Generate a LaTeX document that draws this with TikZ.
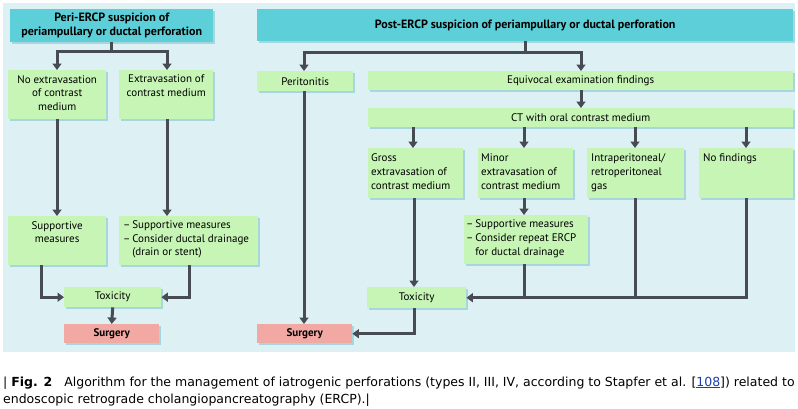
\documentclass[tikz,border=0pt]{standalone}
\usepackage{fontspec}
\setmainfont{PT Sans}
\newfontfamily\capfont{DejaVu Sans}
\usetikzlibrary{arrows.meta,calc}
\definecolor{bgblue}{HTML}{DDF0F4}
\definecolor{headc}{HTML}{5CCFD8}
\definecolor{boxgreen}{HTML}{C7F5B6}
\definecolor{surgc}{HTML}{F2A8A3}
\definecolor{shadc}{HTML}{A8D6DE}
\definecolor{linec}{HTML}{474C52}
\definecolor{linkc}{HTML}{1F3FA8}
\tikzset{
  x=1pt, y=-1pt,
  basebox/.style={draw=none, inner sep=0pt, anchor=north west,
    preaction={fill=shadc, transform canvas={xshift=1.6pt, yshift=-1.6pt}}},
  hbox/.style={basebox, fill=headc},
  gbox/.style={basebox, fill=boxgreen},
  sbox/.style={basebox, fill=surgc},
  sz/.style 2 args={minimum width=#1pt, minimum height=#2pt},
  txt/.style={inner sep=0pt, font=\fontsize{11}{13.8}\selectfont},
  ctxt/.style={txt, align=center, anchor=north},
  ltxt/.style={txt, align=left, anchor=north west},
  htxt/.style={font=\fontsize{12}{14}\selectfont\bfseries},
  ln/.style={draw=linec, line width=3pt},
  arr/.style={ln, -{Triangle[width=9pt,length=6.5pt]}},
}
\begin{document}
\begin{tikzpicture}
\useasboundingbox (0,0) rectangle (798,408);
\fill[white] (0,0) rectangle (798,408);
\fill[bgblue] (3,3) rectangle (795,352);

% x reference coordinates
\foreach \n in {167,304,413,414,524,581,635,746}
  \coordinate (c\n) at (\n,0);

% headers
\node[hbox, sz={203}{33}] (perih) at (10,9) {};
\node[ctxt, htxt] at ($(perih.north)+(0,3.5)$) {Peri-ERCP suspicion of\\periampullary or ductal perforation};
\node[hbox, sz={536}{32}] (posth) at (257,9) {};
\node[txt, htxt] at (posth.center) {Post-ERCP suspicion of periampullary or ductal perforation};

% left column
\node[gbox, sz={98}{49}] (noext) at (8,70) {};
\node[ctxt] at ($(noext.north)+(0,5)$) {No extravasation\\of contrast\\medium};
\node[gbox, sz={94}{49}] (ext) at (119,70) {};
\node[ctxt] at ($(ext.north)+(0,5)$) {Extravasation of\\contrast medium};
\node[gbox, sz={98}{49}] (supL) at (8,216) {};
\node[ctxt] at ($(supL.north)+(0,5)$) {Supportive\\measures};
\node[gbox, sz={139}{49}] (supLR) at (119,216) {};
\node[ltxt] at (123,218.5) {\begin{tabular}{@{}l@{\,}l@{}}–&Supportive measures\\–&Consider ductal drainage\\&(drain or stent)\end{tabular}};
\node[gbox, sz={97}{20}] (toxL) at (64,287) {};
\node[txt] at (toxL.center) {Toxicity};
\node[sbox, sz={95}{19}] (surgL) at (64,324) {};
\node[txt, font=\fontsize{11}{14}\selectfont\bfseries] at (surgL.center) {Surgery};

% right part
\node[gbox, sz={96}{20}] (perit) at (257,71) {};
\node[txt] at (perit.center) {Peritonitis};
\node[gbox, sz={425}{19}] (equiv) at (368,71) {};
\node[txt] at (equiv.center) {Equivocal examination findings};
\node[gbox, sz={425}{19}] (ct) at (368,108) {};
\node[txt] at (ct.center) {CT with oral contrast medium};
\node[gbox, sz={95}{50}] (gross) at (368,148) {};
\node[ltxt] at (371,153.5) {Gross\\extravasation of\\contrast medium};
\node[gbox, sz={95}{50}] (minor) at (478,148) {};
\node[ltxt] at (481,153.5) {Minor\\extravasation of\\contrast medium};
\node[gbox, sz={97}{50}] (intra) at (587,148) {};
\node[ltxt] at (591,153.5) {Intraperitoneal/\\retroperitoneal\\gas};
\node[gbox, sz={94}{50}] (nofind) at (699,148) {};
\node[ltxt] at (703,153.5) {No findings};
\node[gbox, sz={124}{49}] (supR) at (464,215) {};
\node[ltxt] at (466,218) {\begin{tabular}{@{}l@{\,}l@{}}–&Supportive measures\\–&Consider repeat ERCP\\&for ductal drainage\end{tabular}};
\node[gbox, sz={99}{21}] (toxR) at (367,287) {};
\node[txt] at (toxR.center) {Toxicity};
\node[sbox, sz={95}{19}] (surgR) at (257,324) {};
\node[txt, font=\fontsize{11}{14}\selectfont\bfseries] at (surgR.center) {Surgery};

% connectors left
\draw[arr] (perih.south) -- ++(0,9) -| (noext.north -| 57,0);
\draw[arr] (perih.south) -- ++(0,9) -| (ext.north -| c167);
\draw[arr] (noext.south -| 57,0) -- (supL.north -| 57,0);
\draw[arr] (ext.south -| c167) -- (supLR.north -| c167);
\draw[arr] (supL.south -| 41,0) |- (toxL.west);
\draw[arr] (supLR.south -| 189,0) |- (toxL.east);
\draw[arr] (toxL.south) -- (surgL.north);

% connectors right
\coordinate (j2) at (525,52);
\draw[ln] (posth.south -| j2) -- (j2);
\draw[arr] (j2) -| (perit.north -| c304);
\draw[arr] (j2) -| (equiv.north -| c581);
\draw[arr] (equiv.south -| c581) -- (ct.north -| c581);
\draw[arr] (ct.south -| c413) -- (gross.north -| c413);
\draw[arr] (ct.south -| c524) -- (minor.north -| c524);
\draw[arr] (ct.south -| c635) -- (intra.north -| c635);
\draw[arr] (ct.south -| c746) -- (nofind.north -| c746);
\draw[arr] (perit.south -| c304) -- (surgR.north -| c304);
\draw[arr] (gross.south -| c414) -- (toxR.north -| c414);
\draw[arr] (minor.south -| c524) -- (supR.north -| c524);
\draw[ln] (supR.south -| c524) -- (toxR.east -| c524);
\draw[ln] (intra.south -| c635) -- (toxR.east -| c635);
\draw[arr] (nofind.south -| c746) |- (toxR.east);
\draw[arr] (toxR.south -| c414) |- (surgR.east);

% caption
\node[inner sep=0pt, anchor=base west, font=\capfont\fontsize{12.5}{15}\selectfont] (cap1) at (3,386) {| \textbf{Fig. 2}\ \ \ Algorithm for the management of iatrogenic perforations (types II, III, IV, according to Stapfer et al. [{\color{linkc}\underline{108}}]) related to};
\node[inner sep=0pt, anchor=base west, font=\capfont\fontsize{12.5}{15}\selectfont] (cap2) at (3,403) {endoscopic retrograde cholangiopancreatography (ERCP).|};
\end{tikzpicture}
\end{document}
